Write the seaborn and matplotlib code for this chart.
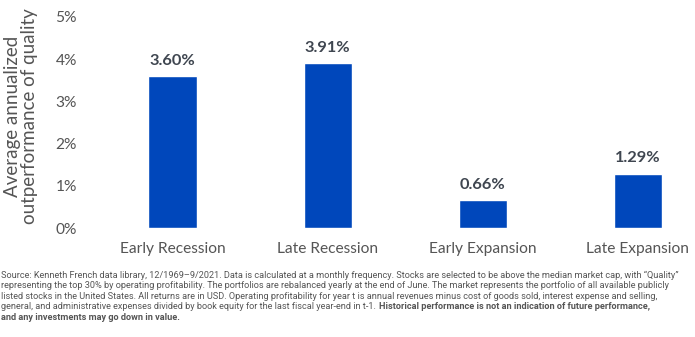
import matplotlib
matplotlib.use("Agg")
import numpy as np
import pandas as pd
import seaborn as sns
import matplotlib.pyplot as plt

# chart data
phases = ['Early Recession', 'Late Recession', 'Early Expansion', 'Late Expansion']
outperformance = [3.60, 3.91, 0.66, 1.29]
value_labels = ['3.60%', '3.91%', '0.66%', '1.29%']
y_ticks = [0, 1, 2, 3, 4, 5]
y_tick_labels = ['0%', '1%', '2%', '3%', '4%', '5%']

note_lines = [
    'Source: Kenneth French data library, 12/1969\u20139/2021. Data is calculated at a monthly frequency. Stocks are selected to be above the median market cap, with \u201cQuality\u201d',
    'representing the top 30% by operating profitability. The portfolios are rebalanced yearly at the end of June. The market represents the portfolio of all available publicly',
    'listed stocks in the United States. All returns are in USD. Operating profitability for year t is annual revenues minus cost of goods sold, interest expense and selling,',
    'general, and administrative expenses divided by book equity for the last fiscal year-end in t-1. ',
]
note_bold_1 = 'Historical performance is not an indication of future performance,'
note_bold_2 = 'and any investments may go down in value.'

df = pd.DataFrame({'phase': phases, 'value': outperformance})

sns.set_style('white')
plt.rcParams['font.family'] = ['Lato', 'DejaVu Sans']

fig = plt.figure(figsize=(6.95, 3.37), dpi=100)
ax = fig.add_axes([95 / 695, 1 - 228 / 337, 1 - 95 / 695, (228 - 17) / 337])

bar_color = '#0047BB'
sns.barplot(data=df, x='phase', y='value', color=bar_color, saturation=1,
            width=0.31, ax=ax)

ax.set_xlim(-0.5, 3.37)
ax.set_ylim(0, 5)
ax.set_yticks(y_ticks)
ax.set_yticklabels(y_tick_labels)
ax.set_xlabel('')
ax.set_ylabel('Average annualized\noutperformance of quality', fontsize=13.5,
              color='#555555', linespacing=0.98)
ax.yaxis.set_label_coords(-0.095, 0.53)
ax.tick_params(axis='y', length=0, pad=13, labelsize=11.2, labelcolor='#555555')
ax.tick_params(axis='x', length=0, pad=10, labelsize=11.2, labelcolor='#555555')
sns.despine(ax=ax, left=True, bottom=True)

ax.bar_label(ax.containers[0], labels=value_labels, padding=6,
             fontsize=11.8, fontweight='bold', color='#3f4650')

# footnote
note_font = ['Liberation Sans Narrow', 'Roboto', 'DejaVu Sans']
note_color = '#555555'
note_size = 6.62
y0 = 1 - 275 / 337
step = 10.6 / 337
last = None
for i, line in enumerate(note_lines):
    last = fig.text(0.002, y0 - i * step, line, fontsize=note_size, color=note_color,
                    family=note_font, va='center', ha='left')
ax.annotate(note_bold_1, xy=(1, 0), xycoords=last, va='bottom', ha='left',
            fontsize=note_size, color=note_color, family=note_font, fontweight='bold',
            annotation_clip=False)
fig.text(0.002, y0 - 4 * step, note_bold_2, fontsize=note_size, color=note_color,
         family=note_font, fontweight='bold', va='center', ha='left')

fig.savefig('out.png', dpi=100)
